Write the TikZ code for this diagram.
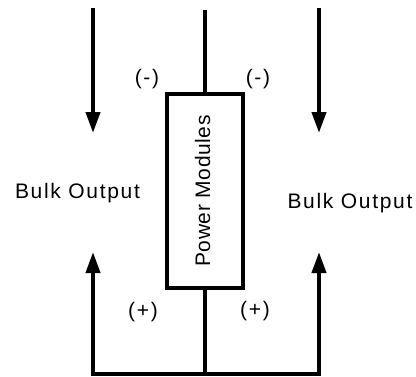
\documentclass[tikz,border=0pt]{standalone}
\usepackage{fontspec}
\setmainfont{Liberation Sans}
\usetikzlibrary{arrows.meta}
\tikzset{
  wire/.style={line width=4pt},
  arr/.style={wire,-{Triangle[length=21pt,width=14pt]}},
  dblarr/.style={wire,{Triangle[length=21pt,width=14pt]}-{Triangle[length=21pt,width=14pt]}},
  lbl/.style={inner sep=0pt,font=\fontsize{21pt}{25pt}\selectfont\addfontfeature{LetterSpace=8}},
  pol/.style={inner sep=0pt,font=\fontsize{21pt}{25pt}\selectfont\addfontfeature{LetterSpace=8}},
  modbox/.style={draw,line width=4pt,minimum width=76pt,minimum height=194pt,inner sep=0pt}
}
\begin{document}
\begin{tikzpicture}[x=1pt,y=-1pt]
\useasboundingbox (0,0) rectangle (416,376);
% box
\node[modbox] (box) at (205,191) {};
\node[inner sep=0pt,rotate=90,anchor=base,font=\fontsize{21pt}{25pt}\selectfont\addfontfeature{LetterSpace=3}] (pm) at (210,191) {Power Modules};
% coordinates
\coordinate (lt) at (93,8);
\coordinate (ld) at (93,133);
\coordinate (rt) at (319,8);
\coordinate (rd) at (319,133);
\coordinate (ct) at (205,10);
\coordinate (lu) at (93,252);
\coordinate (ru) at (319,252);
\coordinate (bl) at (93,373.5);
\coordinate (br) at (319,373.5);
\coordinate (bm) at (205,373.5);
% connectors
\draw[arr] (lt) -- (ld);
\draw[arr] (rt) -- (rd);
\draw[wire] (ct) -- (box.north);
\draw[dblarr] (lu) -- (bl) -- (br) -- (ru);
\draw[wire] (box.south) -- (bm);
% labels
\node[pol] (nl) at (147,79) {(-)};
\node[pol] (nr) at (258,79) {(-)};
\node[pol] (pl) at (143,312) {(+)};
\node[pol] (pr) at (255,311) {(+)};
\node[lbl,anchor=base] (bol) at (77.5,198) {Bulk Output};
\node[lbl,anchor=base] (bor) at (350,208) {Bulk Output};
\end{tikzpicture}
\end{document}
